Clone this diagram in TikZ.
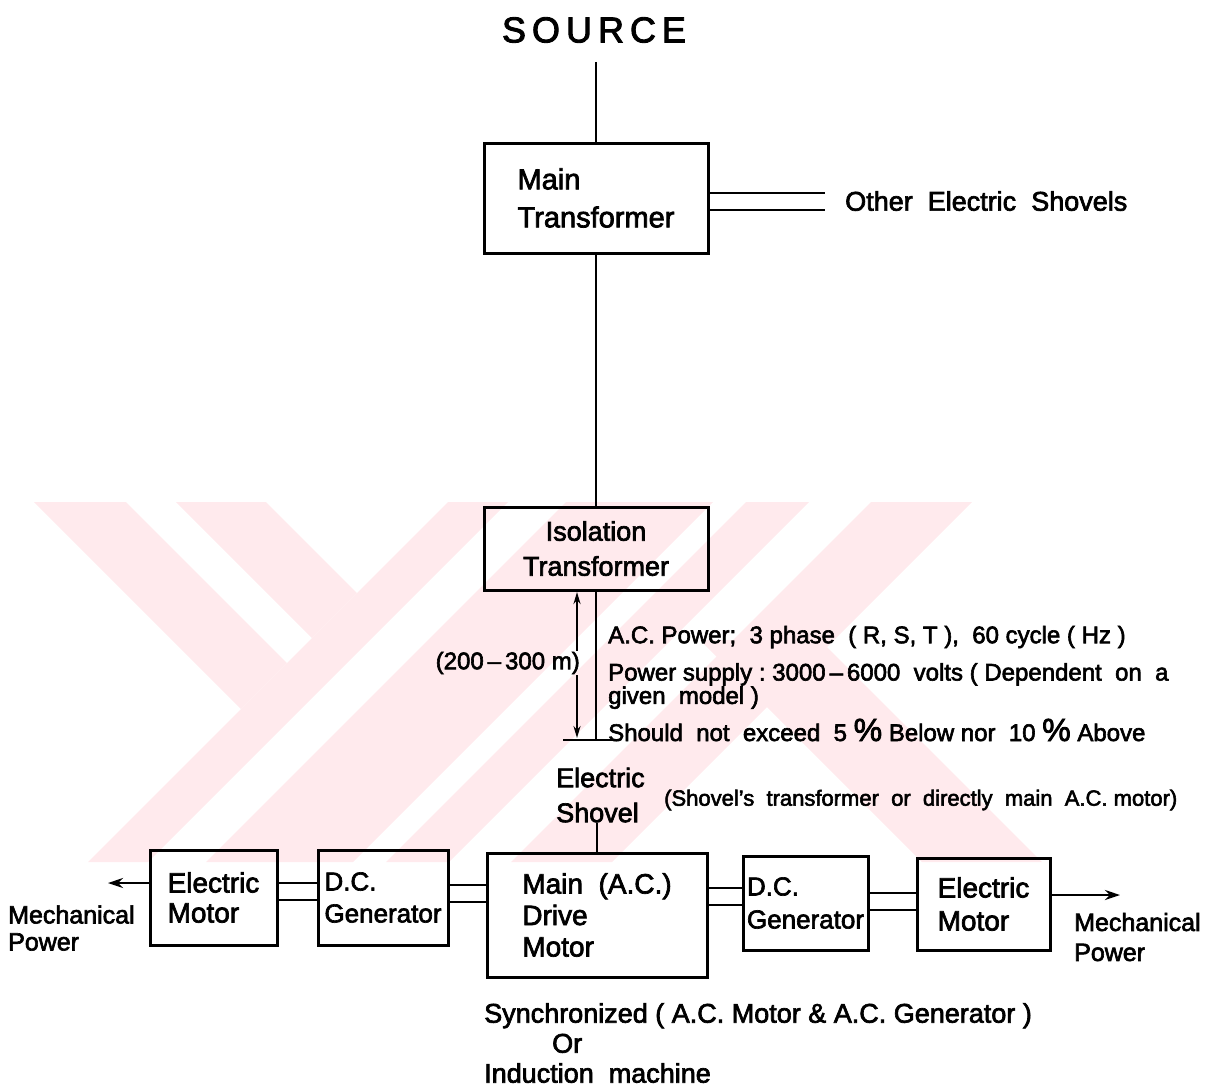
\documentclass[tikz,border=0pt]{standalone}
\usepackage{fontspec}
\setmainfont{Liberation Sans}[FakeBold=2.5]
\usetikzlibrary{arrows.meta,positioning}
\definecolor{wmpink}{RGB}{255,234,237}
\newcommand{\fsz}[2]{\fontsize{#1}{#2}\selectfont}
\tikzset{blk/.style={draw,line width=3pt,inner sep=0pt,align=left},
 wire/.style={line width=2.8pt},
 note/.style={inner sep=0pt,align=left,anchor=west,font=\fsz{24}{22}},
 arr/.style={wire,-{Stealth[length=15pt,width=10pt]}},
 dim/.style={line width=2pt,-{Stealth[length=12pt,width=7pt]}}}
\begin{document}
\begin{tikzpicture}[x=1pt,y=-1pt]
\useasboundingbox (0,0) rectangle (1225,1088);
% watermark in the back
\begin{scope}
\clip (34,502) rectangle (1060,862);
\fill[wmpink] (34,502)--(126,502)--(287,663)--(241,709)--cycle;
\fill[wmpink] (176,502)--(266,502)--(357,593)--(312,638)--cycle;
\fill[wmpink] (448,502)--(508,502)--(148,862)--(88,862)--cycle;
\fill[wmpink] (566,502)--(713,502)--(353,862)--(206,862)--cycle;
\fill[wmpink] (746,502)--(809,502)--(449,862)--(386,862)--cycle;
\fill[wmpink] (871,502)--(972,502)--(612,862)--(511,862)--cycle;
\fill[wmpink] (700,640)--(820,640)--(1042,862)--(922,862)--cycle;
\end{scope}

\node[inner sep=0pt,font=\fsz{36}{40}] (src) at (594,30) {S\,O\,U\,R\,C\,E};
\node[blk,minimum width=224pt,minimum height=110pt,font=\fsz{29}{38}] (mtr) at (596,198) {Main\\Transformer};
\node[blk,minimum width=224pt,minimum height=83pt,align=center,font=\fsz{27}{35}] (iso) at (596,548.5) {Isolation\\Transformer};
\draw[wire,shorten <=19pt] (src.south -| mtr.north) -- (mtr.north);
\draw[wire] (mtr.south) -- (iso.north);

% other shovels
\coordinate (ot1) at (825,193);
\coordinate (ot2) at (825,210);
\draw[wire] (mtr.east |- ot1) -- (ot1);
\draw[wire] (mtr.east |- ot2) -- (ot2);
\node[anchor=west,inner sep=0pt,font=\fsz{27}{30}] (oth) at (845,201) {Other\ \ Electric\ \ Shovels};

% cable to the shovel
\coordinate (tk) at (596,740);
\coordinate (tkl) at (563,740);
\coordinate (tkr) at (620,740);
\draw[wire] (iso.south) -- (tk);
\draw[wire] (tkl) -- (tkr);
\node[anchor=east,inner sep=1pt,font=\fsz{24}{26}] (len) at (581,663) {(200\,--\,300 m)};
\coordinate (dt) at (577,592);
\coordinate (db) at (577,738);
\draw[dim] (len.north -| dt) -- (dt);
\draw[dim] (len.south -| db) -- (db);
\node[note] (n1) at (608,637) {A.C.\ Power;\ \ 3 phase\ \ ( R, S, T ),\ \ 60 cycle ( Hz )};
\node[note] (n2) at (608,686) {Power\ supply :\ 3000\,--\,6000\ \ volts ( Dependent\ \ on\ \ a\\given\ \ model )};
\node[note] (n3) at (608,730) {Should\ \ not\ \ exceed\ \ 5 {\fsz{32}{32}\%} Below\ nor\ \ 10 {\fsz{32}{32}\%} Above};

\node[anchor=west,align=left,inner sep=0pt,font=\fsz{27}{35}] (shv) at (556,795) {Electric\\Shovel};
\node[anchor=west,inner sep=0pt,font=\fsz{22}{24}] (shvn) at (664,800) {(Shovel's\ \ transformer\ \ or\ \ directly\ \ main\ \ A.C. motor)};

% drive train
\node[blk,minimum width=127pt,minimum height=95pt,font=\fsz{28}{30}] (em1) at (213.5,897.5) {Electric\\Motor};
\node[blk,minimum width=130pt,minimum height=95pt,font=\fsz{26}{32}] (dcg1) at (383,897.5) {D.C.\\Generator};
\node[blk,minimum width=220pt,minimum height=124pt,font=\fsz{28}{31.5}] (mdm) at (597,915) {Main\ \ (A.C.)\\Drive\\Motor};
\node[blk,minimum width=125pt,minimum height=94pt,font=\fsz{26}{33}] (dcg2) at (805.5,903) {D.C.\\Generator};
\node[blk,minimum width=133pt,minimum height=92pt,font=\fsz{28}{33}] (em2) at (983.5,904) {Electric\\Motor};
\draw[wire] (shv.south -| mdm.north) -- (mdm.north);

\coordinate (l1a) at (0,883);
\coordinate (l1b) at (0,900);
\coordinate (l2a) at (0,885);
\coordinate (l2b) at (0,902);
\coordinate (l3a) at (0,888);
\coordinate (l3b) at (0,905);
\coordinate (l4a) at (0,893);
\coordinate (l4b) at (0,910);
\draw[wire] (em1.east |- l1a) -- (dcg1.west |- l1a);
\draw[wire] (em1.east |- l1b) -- (dcg1.west |- l1b);
\draw[wire] (dcg1.east |- l2a) -- (mdm.west |- l2a);
\draw[wire] (dcg1.east |- l2b) -- (mdm.west |- l2b);
\draw[wire] (mdm.east |- l3a) -- (dcg2.west |- l3a);
\draw[wire] (mdm.east |- l3b) -- (dcg2.west |- l3b);
\draw[wire] (dcg2.east |- l4a) -- (em2.west |- l4a);
\draw[wire] (dcg2.east |- l4b) -- (em2.west |- l4b);

\coordinate (mpl) at (108,883);
\coordinate (mpr) at (1120,895);
\draw[arr] (em1.west |- mpl) -- (mpl);
\draw[arr] (em2.east |- mpr) -- (mpr);
\node[anchor=west,align=left,inner sep=0pt,font=\fsz{25}{27}] (mech1) at (8,928) {Mechanical\\Power};
\node[anchor=west,align=left,inner sep=0pt,font=\fsz{25}{30}] (mech2) at (1074,937) {Mechanical\\Power};

\node[anchor=west,align=left,inner sep=0pt,font=\fsz{27}{30}] (sync) at (484,1043) {Synchronized ( A.C.\ Motor\ \& A.C.\ Generator )\\\hspace*{68pt}Or\\Induction\ \ machine};
\end{tikzpicture}
\end{document}
